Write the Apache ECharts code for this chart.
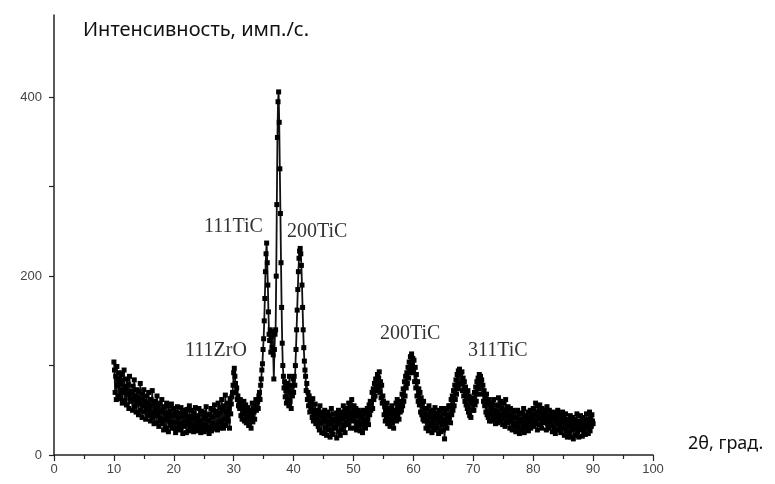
<!DOCTYPE html>
<html>
<head>
<meta charset="utf-8">
<script src="https://cdn.jsdelivr.net/npm/echarts@6/dist/echarts.min.js"></script>
<style>
  html, body { margin: 0; padding: 0; background: #fff; }
  #xrd-chart { width: 775px; height: 484px; }
</style>
</head>
<body>
<div id="xrd-chart"></div>
<script>
// 2θ grid: 10..90 deg, 0.1 deg step
const thetaStart = 10;
const thetaStep = 0.1;

// intensity, imp/s (one row per degree)
const intensity = [
  104, 95, 70, 88, 62, 99, 78, 85, 66, 92,
  80, 63, 90, 72, 58, 84, 70, 95, 61, 77,
  74, 56, 85, 68, 79, 52, 88, 64, 71, 60,
  70, 50, 77, 62, 84, 55, 66, 48, 73, 59,
  64, 45, 71, 57, 80, 50, 62, 42, 68, 55,
  73, 48, 60, 40, 66, 52, 58, 44, 70, 50,
  55, 38, 62, 46, 72, 42, 57, 35, 60, 48,
  52, 36, 66, 44, 55, 32, 58, 41, 49, 38,
  62, 35, 50, 28, 54, 40, 47, 30, 58, 43,
  46, 26, 55, 38, 49, 33, 57, 30, 44, 36,
  52, 30, 45, 25, 48, 36, 54, 29, 42, 33,
  47, 28, 53, 35, 44, 24, 50, 32, 46, 38,
  45, 25, 51, 34, 40, 27, 55, 31, 43, 36,
  50, 29, 42, 26, 47, 33, 53, 28, 40, 35,
  44, 27, 52, 32, 38, 25, 49, 30, 46, 34,
  48, 26, 41, 33, 54, 28, 45, 31, 39, 24,
  46, 30, 52, 27, 43, 35, 50, 29, 56, 33,
  49, 32, 45, 28, 58, 36, 47, 30, 53, 38,
  62, 35, 50, 30, 55, 40, 67, 33, 48, 42,
  58, 38, 52, 30, 63, 46, 57, 65, 70, 78,
  92, 97, 88, 80, 70, 75, 62, 66, 55, 60,
  52, 62, 44, 57, 40, 53, 46, 60, 38, 50,
  56, 36, 48, 42, 53, 33, 50, 39, 46, 30,
  44, 58, 37, 52, 48, 40, 55, 62, 50, 57,
  60, 52, 66, 70, 62, 78, 85, 95, 102, 118,
  130, 150, 175, 205, 225, 237, 215, 190, 160, 135,
  128, 140, 115, 132, 120, 138, 112, 85, 118, 135,
  140, 200, 280, 355, 395, 406, 372, 320, 270, 215,
  165, 125, 100, 88, 75, 82, 65, 72, 58, 80,
  62, 75, 55, 88, 60, 70, 52, 78, 66, 85,
  70, 88, 78, 100, 118, 140, 162, 185, 205, 220,
  228, 231, 225, 212, 190, 165, 140, 120, 105, 95,
  88, 72, 80, 62, 70, 55, 66, 48, 60, 52,
  58, 42, 63, 38, 50, 45, 57, 35, 48, 40,
  50, 32, 46, 28, 55, 36, 44, 25, 48, 38,
  42, 24, 50, 30, 45, 22, 38, 48, 28, 35,
  44, 20, 36, 52, 27, 40, 23, 46, 31, 38,
  30, 47, 19, 42, 35, 50, 26, 39, 22, 44,
  48, 28, 41, 55, 33, 46, 25, 50, 36, 43,
  52, 34, 58, 40, 47, 30, 55, 62, 42, 50,
  38, 55, 30, 46, 52, 28, 44, 36, 50, 33,
  45, 27, 48, 35, 42, 25, 50, 32, 38, 46,
  30, 48, 37, 52, 40, 34, 56, 45, 60, 50,
  58, 70, 52, 74, 62, 80, 66, 85, 72, 78,
  90, 74, 86, 93, 70, 82, 64, 78, 58, 66,
  60, 45, 54, 38, 50, 42, 58, 35, 47, 40,
  52, 32, 48, 40, 55, 36, 44, 30, 50, 42,
  46, 58, 38, 62, 44, 52, 40, 56, 48, 60,
  50, 68, 55, 74, 60, 82, 66, 88, 75, 92,
  80, 98, 86, 104, 92, 110, 96, 113, 100, 108,
  92, 106, 82, 98, 75, 90, 66, 82, 60, 74,
  56, 70, 48, 64, 45, 58, 40, 60, 38, 52,
  46, 30, 52, 38, 44, 27, 55, 35, 48, 32,
  42, 25, 50, 36, 45, 28, 53, 33, 40, 47,
  30, 44, 24, 50, 37, 42, 26, 52, 34, 46,
  28, 40, 18, 48, 35, 52, 30, 44, 38, 55,
  42, 55, 36, 62, 45, 66, 50, 72, 55, 78,
  62, 84, 68, 90, 74, 94, 78, 96, 80, 92,
  80, 93, 72, 86, 66, 82, 60, 76, 56, 70,
  52, 72, 48, 66, 44, 62, 42, 58, 64, 50,
  62, 50, 70, 56, 76, 60, 82, 68, 86, 74,
  90, 78, 88, 80, 84, 68, 78, 60, 72, 55,
  64, 48, 68, 45, 60, 42, 62, 38, 57, 46,
  52, 38, 58, 44, 62, 40, 50, 35, 56, 46,
  48, 36, 64, 42, 55, 38, 60, 45, 52, 34,
  58, 40, 50, 32, 62, 44, 48, 36, 54, 40,
  46, 30, 52, 38, 44, 28, 50, 35, 42, 32,
  48, 26, 42, 34, 50, 30, 38, 24, 46, 36,
  40, 28, 47, 33, 52, 25, 44, 36, 30, 42,
  35, 48, 27, 42, 38, 50, 30, 45, 33, 40,
  52, 32, 45, 38, 58, 35, 48, 28, 55, 40,
  42, 56, 34, 48, 30, 52, 40, 45, 36, 50,
  38, 47, 28, 54, 35, 42, 30, 50, 37, 44,
  33, 46, 26, 40, 48, 30, 43, 24, 38, 45,
  35, 50, 28, 42, 32, 46, 25, 40, 36, 48,
  30, 42, 22, 38, 46, 27, 35, 20, 40, 33,
  25, 38, 44, 20, 34, 28, 42, 18, 36, 30,
  40, 22, 35, 46, 26, 32, 20, 38, 29, 44,
  28, 36, 21, 42, 30, 25, 38, 23, 34, 46,
  30, 40, 24, 36, 48, 27, 42, 32, 45, 38,
  35
];

const yTicks = [0, 100, 200, 300, 400];
const yLabels = [0, 200, 400];

// peak labels
const peakNames = ['111ZrO', '111TiC', '200TiC', '200TiC', '311TiC'];

const points = intensity.map((v, i) => [+(thetaStart + i * thetaStep).toFixed(1), v]);

const myChart = echarts.init(document.getElementById('xrd-chart'));

const peakPos = [
  [185, 341],
  [204, 217],
  [287, 222],
  [380, 324],
  [468, 341],
];

const options = {
  animation: false,
  grid: { left: 54, right: 122, top: 15, bottom: 29 },
  xAxis: {
    type: 'value',
    min: 0,
    max: 100,
    interval: 10,
    axisLine: { show: true, lineStyle: { color: '#222', width: 1.5 } },
    axisTick: { show: true, length: 6, lineStyle: { color: '#222', width: 1.2 } },
    minorTick: { show: true, splitNumber: 2, length: 4, lineStyle: { color: '#222', width: 1.2 } },
    axisLabel: { color: '#444', fontSize: 13, fontFamily: 'Liberation Sans', margin: 8 },
    splitLine: { show: false },
  },
  yAxis: {
    type: 'value',
    min: 0,
    max: 492,
    axisLine: { show: true, lineStyle: { color: '#222', width: 1.5 } },
    axisTick: { show: true, length: 5, customValues: yTicks, lineStyle: { color: '#222', width: 1.2 } },
    axisLabel: { color: '#444', fontSize: 13, fontFamily: 'Liberation Sans', margin: 12, customValues: yLabels },
    splitLine: { show: false },
  },
  graphic: [
    {
      type: 'text', left: 83, top: 20,
      style: { text: 'Интенсивность, имп./с.', fill: '#111', fontSize: 20, fontFamily: 'Noto Sans' },
    },
    {
      type: 'text', left: 688, top: 435,
      style: { text: '2θ, град.', fill: '#111', fontSize: 18, fontFamily: 'Noto Sans' },
    },
  ].concat(peakNames.map((name, i) => ({
    type: 'text', left: peakPos[i][0], top: peakPos[i][1],
    style: { text: name, fill: '#333', fontSize: 20, fontFamily: 'Liberation Serif' },
  }))),
  series: [
    {
      type: 'line',
      data: points,
      symbol: 'rect',
      symbolSize: 5,
      showAllSymbol: true,
      sampling: null,
      itemStyle: { color: '#000' },
      lineStyle: { color: '#111', width: 1.8 },
    },
  ],
};
myChart.setOption(options);
</script>
</body>
</html>
